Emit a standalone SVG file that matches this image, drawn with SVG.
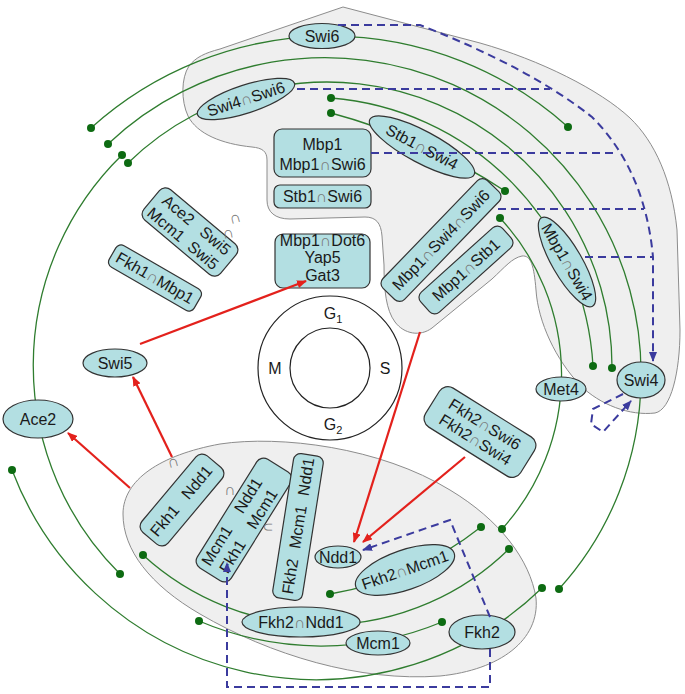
<svg xmlns="http://www.w3.org/2000/svg" width="685" height="694" viewBox="0 0 685 694">
<defs>
<style>
.blob{fill:#efefef;stroke:#8c8c8c;stroke-width:1}
.n{fill:#b3dfe2;stroke:#333;stroke-width:1.2}
.t{font-family:"Liberation Sans",Arial,sans-serif;font-size:16px;fill:#1a1a1a;text-anchor:middle}
.c{fill:#777}
.g{fill:none;stroke:#2f7d2f;stroke-width:1.3}
.dot{fill:#0d6b12}
.red{fill:none;stroke:#e3211c;stroke-width:2.2;marker-end:url(#ar)}
.blue{fill:none;stroke:#3b3b9e;stroke-width:2;stroke-dasharray:8 5}
.cyc{fill:none;stroke:#222;stroke-width:1.2}
</style>
<marker id="ar" markerWidth="10" markerHeight="8" refX="9" refY="4" orient="auto" markerUnits="userSpaceOnUse"><path d="M0,0 L10,4 L0,8 z" fill="#e3211c"/></marker>
<marker id="ab" markerWidth="10" markerHeight="8" refX="9" refY="4" orient="auto" markerUnits="userSpaceOnUse"><path d="M0,0 L10,4 L0,8 z" fill="#3b3b9e"/></marker>
</defs>
<rect width="685" height="694" fill="#fff"/>

<g id="regions">
<path class="blob" d="M343,7 L480,43 C540,60 600,90 630,118 C655,142 672,180 677,230 L680,330 C680,372 671,410 655,413 C630,416 600,405 580,385 C556,360 538,322 536,290 C534,266 531,255 522,256 C512,258 505,267 492,279 L432,328 C420,337 404,334 395,322 C386,310 384,290 384,265 L382,236 C381,223 376,217 365,217 L290,219 C275,219 267,212 267,200 L267,160 C267,151 262,148 252,147 C222,144 197,134 188,116 C181,101 181,78 189,66 C196,57 205,53 220,49 Z"/>
<path class="blob" d="M123,514 C123,480 160,455 220,444 C280,435 380,447 450,490 C500,520 530,560 536,598 C540,640 500,670 440,676 C360,682 270,655 200,614 C150,585 123,550 123,514 Z"/>
</g>

<g id="cycle">
<circle class="cyc" cx="330" cy="368" r="72"/>
<circle class="cyc" cx="330" cy="368" r="40"/>
<text class="t" x="333" y="318.5">G<tspan font-size="11" dy="4">1</tspan></text>
<text class="t" x="333" y="429.5">G<tspan font-size="11" dy="4">2</tspan></text>
<text class="t" x="275" y="374">M</text>
<text class="t" x="385" y="374">S</text>
</g>

<g id="connectors-green">
<path class="g" d="M91,128 A357,357 0 0 1 568,127"/>
<path class="g" d="M108,144 A316,316 0 0 1 641,380 A316,316 0 0 1 559,589"/>
<path class="g" d="M128,163 A285,285 0 0 1 612,368"/>
<path class="g" d="M331,98 A285,285 0 0 1 593,366"/>
<path class="g" d="M331,113 A600,600 0 0 1 505,191"/>
<path class="g" d="M500,218 A230,230 0 0 1 502,529"/>
<path class="g" d="M120,574 A294,294 0 0 1 122,155"/>
<path class="g" d="M12,470 A325,325 0 0 0 542,588"/>
<path class="g" d="M143,555 A266,266 0 0 0 509,549"/>
<path class="g" d="M199,621 A313,313 0 0 0 442,622"/>
<path class="g" d="M330,594 A335,335 0 0 0 481,527"/>
<g class="dot">
<circle cx="91" cy="128" r="4"/><circle cx="568" cy="127" r="4"/>
<circle cx="108" cy="144" r="4"/><circle cx="559" cy="589" r="4"/>
<circle cx="128" cy="163" r="4"/><circle cx="612" cy="368" r="4"/>
<circle cx="331" cy="98" r="4"/><circle cx="593" cy="366" r="4"/>
<circle cx="331" cy="113" r="4"/><circle cx="505" cy="191" r="4"/>
<circle cx="500" cy="218" r="4"/><circle cx="502" cy="529" r="4"/>
<circle cx="120" cy="574" r="4"/><circle cx="122" cy="155" r="4"/>
<circle cx="12" cy="470" r="4"/><circle cx="542" cy="588" r="4"/>
<circle cx="143" cy="555" r="4"/><circle cx="509" cy="549" r="4"/>
<circle cx="199" cy="621" r="4"/><circle cx="442" cy="622" r="4"/>
<circle cx="330" cy="594" r="4"/><circle cx="481" cy="527" r="4"/>
</g>
</g>

<g id="n-swi6"><ellipse class="n" cx="322" cy="36" rx="33" ry="12.5"/><text class="t" x="322" y="41.5">Swi6</text></g>
<g id="n-swi4swi6" transform="translate(246,99) rotate(-18)"><ellipse class="n" rx="51" ry="14"/><text class="t" y="5.5">Swi4<tspan class="c">∩</tspan>Swi6</text></g>
<g id="n-mbp1"><rect class="n" x="274" y="129" width="97" height="48" rx="8"/><text class="t" x="322.5" y="149.5">Mbp1</text><text class="t" x="322.5" y="169.5">Mbp1<tspan class="c">∩</tspan>Swi6</text></g>
<g id="n-stb1swi6"><rect class="n" x="274" y="185" width="97" height="23" rx="6"/><text class="t" x="322.5" y="202">Stb1<tspan class="c">∩</tspan>Swi6</text></g>
<g id="n-mbp1dot6"><rect class="n" x="275" y="234" width="95" height="54" rx="8"/><text class="t" x="322.5" y="245.5">Mbp1<tspan class="c">∩</tspan>Dot6</text><text class="t" x="322.5" y="263">Yap5</text><text class="t" x="322.5" y="280.5">Gat3</text></g>
<g id="n-stb1swi4" transform="translate(422,147) rotate(28)"><ellipse class="n" rx="59" ry="16"/><text class="t" y="5.5">Stb1<tspan class="c">∩</tspan>Swi4</text></g>
<g id="n-mbp1swi4swi6" transform="translate(441,240) rotate(-46)"><rect class="n" x="-75" y="-15" width="150" height="30" rx="7"/><text class="t" y="5.5">Mbp1<tspan class="c">∩</tspan>Swi4<tspan class="c">∩</tspan>Swi6</text></g>
<g id="n-mbp1stb1" transform="translate(466,270) rotate(-42)"><rect class="n" x="-55" y="-13.5" width="110" height="27" rx="7"/><text class="t" y="5.5">Mbp1<tspan class="c">∩</tspan>Stb1</text></g>
<g id="n-mbp1swi4" transform="translate(567,262) rotate(60)"><ellipse class="n" rx="51" ry="15"/><text class="t" y="5.5">Mbp1<tspan class="c">∩</tspan>Swi4</text></g>
<g id="n-swi4"><ellipse class="n" cx="641" cy="380" rx="24" ry="18"/><text class="t" x="641" y="385.5">Swi4</text></g>
<g id="n-met4"><ellipse class="n" cx="561" cy="389" rx="25" ry="12"/><text class="t" x="561" y="394.5">Met4</text></g>
<g id="n-ace2mcm1swi5">
<g transform="translate(190,232) rotate(40)"><rect class="n" x="-50" y="-20" width="100" height="40" rx="8"/><text class="t" x="-23" y="-4">Ace2</text><text class="t" x="25" y="-4">Swi5</text><text class="t" x="-23" y="15">Mcm1</text><text class="t" x="25" y="15">Swi5</text></g>
<text class="t c" x="235" y="223" transform="rotate(-15 235 218)">∩</text>
<text class="t c" x="228" y="238" transform="rotate(-10 228 233)">∩</text>
</g>
<g id="n-fkh1mbp1" transform="translate(155,278) rotate(30)"><rect class="n" x="-49" y="-12.5" width="98" height="25" rx="6"/><text class="t" y="5.5">Fkh1<tspan class="c">∩</tspan>Mbp1</text></g>
<g id="n-swi5"><ellipse class="n" cx="115" cy="363" rx="32" ry="14"/><text class="t" x="115" y="368.5">Swi5</text></g>
<g id="n-ace2"><ellipse class="n" cx="38" cy="419" rx="35" ry="19"/><text class="t" x="38" y="424.5">Ace2</text></g>
<g id="n-fkh1ndd1">
<g transform="translate(182,500) rotate(-50)"><rect class="n" x="-50" y="-17" width="100" height="34" rx="8"/><text class="t" x="-27" y="5.5">Fkh1</text><text class="t" x="23" y="5.5">Ndd1</text></g>
<text class="t c" x="173" y="467" transform="rotate(-15 173 462)">∩</text>
</g>
<g id="n-mcm1ndd1fkh1">
<g transform="translate(244,520) rotate(-58)"><rect class="n" x="-64" y="-20" width="128" height="40" rx="8"/><text class="t" x="-36" y="-4">Mcm1</text><text class="t" x="23" y="-4">Ndd1</text><text class="t" x="-37" y="15">Fkh1</text><text class="t" x="19" y="15">Mcm1</text></g>
<text class="t c" x="230" y="495">∩</text>
<text class="t c" x="267" y="532" transform="rotate(-90 267 527)">∩</text>
</g>
<g id="n-fkh2mcm1ndd1" transform="translate(298,527) rotate(-81)"><rect class="n" x="-73" y="-15" width="146" height="30" rx="7"/><text class="t" x="-50" y="5.5">Fkh2</text><text class="t" x="0" y="5.5">Mcm1</text><text class="t" x="51" y="5.5">Ndd1</text></g>
<g id="n-ndd1"><ellipse class="n" cx="338" cy="557" rx="23" ry="11"/><text class="t" x="338" y="562.5">Ndd1</text></g>
<g id="n-fkh2mcm1" transform="translate(405,570) rotate(-19)"><ellipse class="n" rx="52" ry="20"/><text class="t" y="5.5">Fkh2<tspan class="c">∩</tspan>Mcm1</text></g>
<g id="n-fkh2ndd1"><ellipse class="n" cx="301" cy="622" rx="59" ry="15"/><text class="t" x="301" y="627.5">Fkh2<tspan class="c">∩</tspan>Ndd1</text></g>
<g id="n-mcm1"><ellipse class="n" cx="378" cy="643" rx="32" ry="12"/><text class="t" x="378" y="648.5">Mcm1</text></g>
<g id="n-fkh2"><ellipse class="n" cx="482" cy="632" rx="33" ry="17"/><text class="t" x="482" y="637.5">Fkh2</text></g>
<g id="n-fkh2swi" transform="translate(480,432) rotate(32)"><rect class="n" x="-56" y="-23" width="112" height="46" rx="10"/><text class="t" y="-3.5">Fkh2<tspan class="c">∩</tspan>Swi6</text><text class="t" y="14.5">Fkh2<tspan class="c">∩</tspan>Swi4</text></g>

<g id="connectors-arrows">
<path class="red" d="M140,344 L306,281"/>
<path class="red" d="M130,488 L68,433"/>
<path class="red" d="M172,457 L133,377"/>
<path class="red" d="M420,332 L354,542"/>
<path class="red" d="M465,457 L363,542"/>
<path class="blue" d="M338,25 L420,25 Q530,68 592,117 Q645,170 653,257 L653,361" marker-end="url(#ab)"/>
<path class="blue" d="M297,89 L550,89"/>
<path class="blue" d="M371,153 L617,153"/>
<path class="blue" d="M498,209 L644,209"/>
<path class="blue" d="M585,257 L653,257"/>
<path class="blue" d="M623,394 L593,409 L591,424 L603,432 L631,401" marker-end="url(#ab)"/>
<path class="blue" d="M490,649 L490,687 L227,687 L227,563" marker-end="url(#ab)"/>
<path class="blue" d="M490,617 L450,520 L363,550" marker-end="url(#ab)"/>
</g>
</svg>
